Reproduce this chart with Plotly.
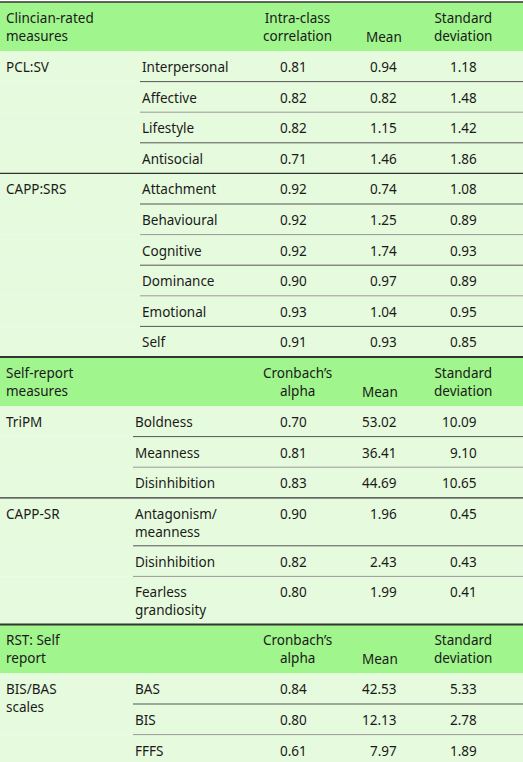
import plotly.graph_objects as go

# table content
sections = [
    {
        "title": "Clincian-rated<br>measures",
        "stat": "Intra-class<br>correlation",
        "groups": [
            ("PCL:SV", ["Interpersonal", "Affective", "Lifestyle", "Antisocial"],
             [0.81, 0.82, 0.82, 0.71], [0.94, 0.82, 1.15, 1.46], [1.18, 1.48, 1.42, 1.86]),
            ("CAPP:SRS", ["Attachment", "Behavioural", "Cognitive", "Dominance", "Emotional", "Self"],
             [0.92, 0.92, 0.92, 0.90, 0.93, 0.91], [0.74, 1.25, 1.74, 0.97, 1.04, 0.93],
             [1.08, 0.89, 0.93, 0.89, 0.95, 0.85]),
        ],
    },
    {
        "title": "Self-report<br>measures",
        "stat": "Cronbach’s<br>alpha",
        "groups": [
            ("TriPM", ["Boldness", "Meanness", "Disinhibition"],
             [0.70, 0.81, 0.83], [53.02, 36.41, 44.69], [10.09, 9.10, 10.65]),
            ("CAPP-SR", ["Antagonism/<br>meanness", "Disinhibition", "Fearless<br>grandiosity"],
             [0.90, 0.82, 0.80], [1.96, 2.43, 1.99], [0.45, 0.43, 0.41]),
        ],
    },
    {
        "title": "RST: Self<br>report",
        "stat": "Cronbach’s<br>alpha",
        "groups": [
            ("BIS/BAS<br>scales", ["BAS", "BIS", "FFFS"],
             [0.84, 0.80, 0.61], [42.53, 12.13, 7.97], [5.33, 2.78, 1.89]),
        ],
    },
]

W, H = 523, 762
HEAD_BG = "#a0f58c"
BODY_BG = "#e6fadd"
LINE = "#333333"
FONT = dict(family="Noto Sans", size=13.5, color="#1a1a1a")

shapes, annots = [], []


def text(x, y, s, anchor="left"):
    annots.append(dict(x=x, y=y, text=s, xref="x", yref="y", showarrow=False,
                       xanchor=anchor, yanchor="top", align=anchor,
                       font=FONT))


def hline(y, x0, width=1, color=LINE):
    shapes.append(dict(type="line", x0=x0, x1=W, y0=y, y1=y, xref="x", yref="y",
                       line=dict(color=color, width=width), layer="above"))


y = 2
hline(y, 0, 1.5)
for si, sec in enumerate(sections):
    hh = 49
    shapes.append(dict(type="rect", x0=0, x1=W, y0=y, y1=y + hh, xref="x", yref="y",
                       fillcolor=HEAD_BG, line=dict(width=0), layer="below"))
    text(4, y + 5, sec["title"])
    text(297, y + 5, sec["stat"], "center")
    text(384 if si == 0 else 380, y + 24, "Mean", "center")
    text(463, y + 5, "Standard<br>deviation", "center")
    y += hh
    sub_x = 140 if si == 0 else 133
    for gi, (gname, rows, a, m, sd) in enumerate(sec["groups"]):
        gtop = y
        for ri, r in enumerate(rows):
            rh = 48 if "<br>" in r else 30.6
            shapes.append(dict(type="rect", x0=0, x1=W, y0=y, y1=y + rh, xref="x", yref="y",
                               fillcolor=BODY_BG, line=dict(width=0), layer="below"))
            text(sub_x, y + 5, r)
            text(309, y + 5, f"{a[ri]:.2f}", "right")
            text(399, y + 5, f"{m[ri]:.2f}", "right")
            text(479, y + 5, f"{sd[ri]:.2f}", "right")
            y += rh
            if ri < len(rows) - 1:
                hline(y, sub_x, 1, "#555555" if ri % 2 == 0 else "#999999")
        text(4, gtop + 5, gname)
        last = gi == len(sec["groups"]) - 1
        hline(y, 0, 2 if last else 1.2)

fig = go.Figure()
fig.update_layout(
    width=W, height=H, margin=dict(l=0, r=0, t=0, b=0),
    plot_bgcolor="white", paper_bgcolor="white",
    xaxis=dict(range=[0, W], visible=False, fixedrange=True),
    yaxis=dict(range=[H, 0], visible=False, fixedrange=True),
    shapes=shapes, annotations=annots, showlegend=False,
)
fig.write_html("out.html", config={"displayModeBar": False},
               post_script="document.body.style.margin='0';document.body.style.padding='0';")
